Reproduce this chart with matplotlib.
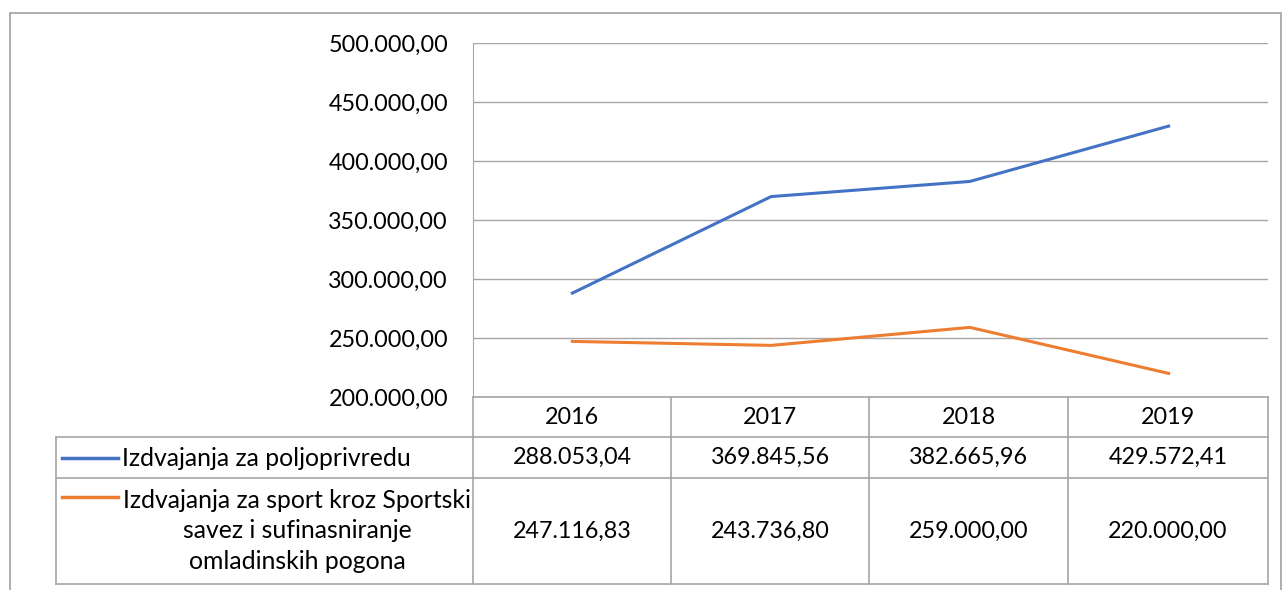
import matplotlib.pyplot as plt
from matplotlib.ticker import FuncFormatter

years = ["2016", "2017", "2018", "2019"]
poljoprivreda = [288053.04, 369845.56, 382665.96, 429572.41]
sport = [247116.83, 243736.80, 259000.00, 220000.00]
names = ["Izdvajanja za poljoprivredu",
         "Izdvajanja za sport kroz Sportski\nsavez i sufinasniranje\nomladinskih pogona"]
colors = ["#4472C4", "#ED7D31"]


def fmt(v, pos=None):
    s = f"{v:,.2f}"
    return s.replace(",", "X").replace(".", ",").replace("X", ".")


W, H = 1283, 590
fig = plt.figure(figsize=(W / 100, H / 100), dpi=100)
grid_c = "#a6a6a6"
font = "Lato"
num_size = 16.8
lab_size = 17.8


def fx(px):
    return px / W


def fy(py):
    return 1 - py / H


# outer frame
fig.add_artist(plt.Rectangle((fx(10), fy(600)), fx(1281) - fx(10), fy(13) - fy(600),
                             fill=False, edgecolor="#a0a0a0", lw=1.2, transform=fig.transFigure))

left, right, top, bottom = 473, 1268, 43, 397
ax = fig.add_axes([fx(left), fy(bottom), fx(right) - fx(left), fy(top) - fy(bottom)])
x = range(len(years))
ax.plot(x, poljoprivreda, color=colors[0], lw=2.2)
ax.plot(x, sport, color=colors[1], lw=2.2)
ax.set_xlim(-0.5, len(years) - 0.5)
ax.set_ylim(200000, 500000)
ax.set_yticks(range(200000, 500001, 50000))
ax.yaxis.set_major_formatter(FuncFormatter(fmt))
ax.set_xticks([])
ax.grid(axis="y", color=grid_c, lw=1)
ax.tick_params(axis="y", length=0, pad=18, labelsize=num_size)
for lab in ax.get_yticklabels():
    lab.set_fontfamily(font)
    lab.set_verticalalignment("center_baseline")
for s in ["top", "right", "bottom"]:
    ax.spines[s].set_visible(False)
ax.spines["left"].set_color(grid_c)

# data table
cols = [473, 671, 869, 1068, 1268]
rows = [397, 437, 478, 584]
tl = 56


def hline(x0, x1, y):
    fig.add_artist(plt.Line2D([fx(x0), fx(x1)], [fy(y), fy(y)], color=grid_c, lw=1.2,
                              transform=fig.transFigure))


def vline(xp, y0, y1):
    fig.add_artist(plt.Line2D([fx(xp), fx(xp)], [fy(y0), fy(y1)], color=grid_c, lw=1.2,
                              transform=fig.transFigure))


hline(left, right, rows[0])
for r in rows[1:]:
    hline(tl, right, r)
vline(tl, rows[1], rows[3])
for c in cols:
    vline(c, rows[0], rows[3])

for i, yr in enumerate(years):
    cx = (cols[i] + cols[i + 1]) / 2
    fig.text(fx(cx), fy((rows[0] + rows[1]) / 2), yr, ha="center", va="center",
             fontsize=num_size, family=font)
    for j, series in enumerate([poljoprivreda, sport]):
        cy = (rows[j + 1] + rows[j + 2]) / 2
        fig.text(fx(cx), fy(cy), fmt(series[i]), ha="center", va="center",
                 fontsize=num_size, family=font)

# row labels with legend keys
fig.add_artist(plt.Line2D([fx(62), fx(118)], [fy(458), fy(458)], color=colors[0], lw=2.5,
                          transform=fig.transFigure))
fig.text(fx(122), fy(458), names[0], ha="left", va="center", fontsize=lab_size, family=font)
fig.add_artist(plt.Line2D([fx(62), fx(118)], [fy(497), fy(497)], color=colors[1], lw=2.5,
                          transform=fig.transFigure))
fig.text(fx(297), fy(531), names[1], ha="center", va="center", fontsize=lab_size, family=font,
         multialignment="center", linespacing=1.38)

fig.savefig("out.png", dpi=100)
